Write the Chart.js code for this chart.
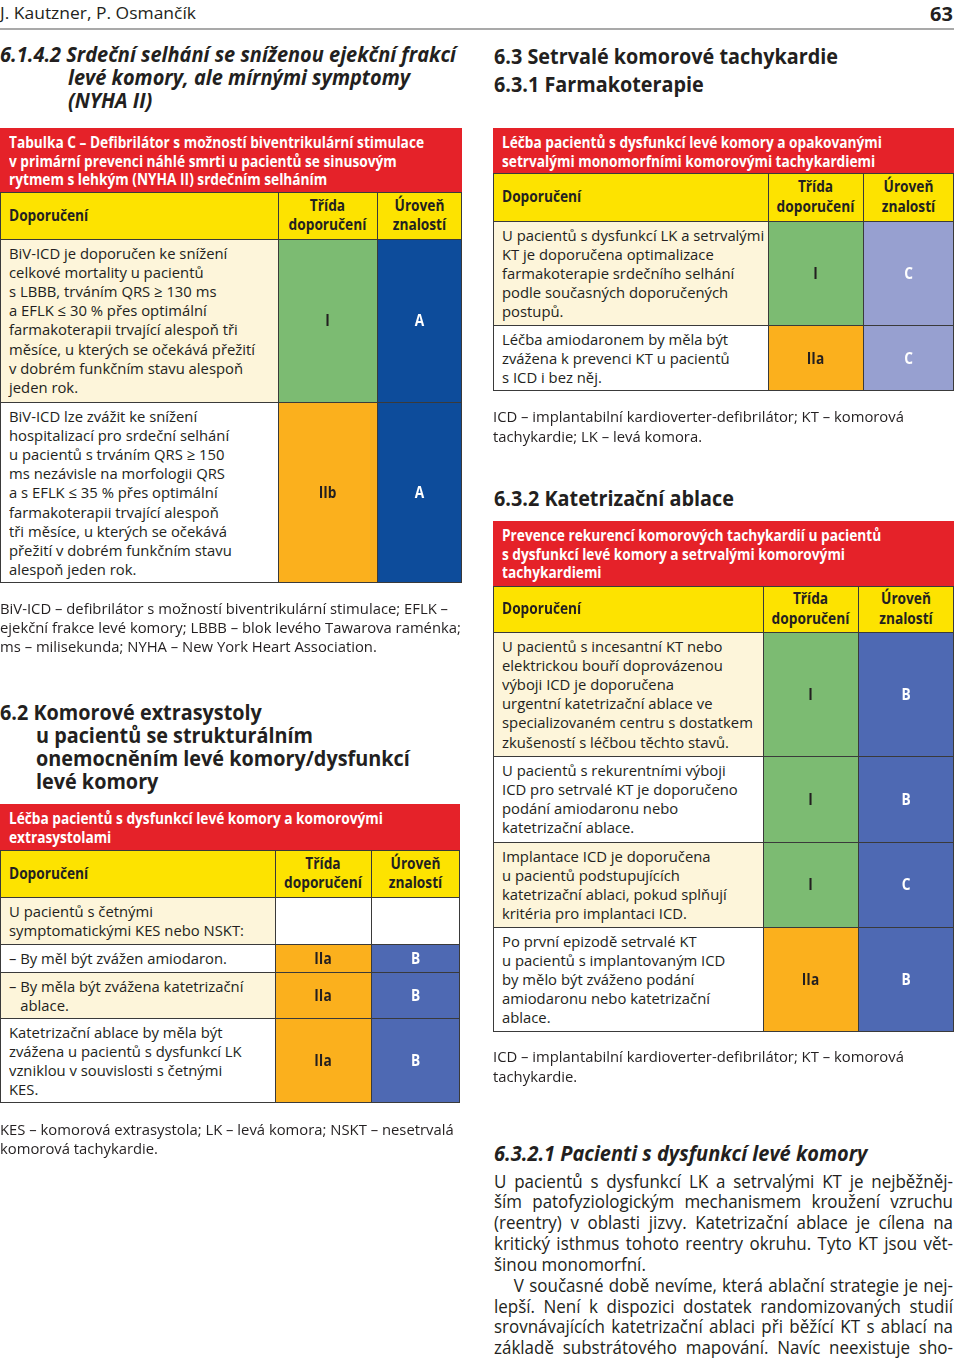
<!DOCTYPE html>
<html lang="cs">
<head>
<meta charset="utf-8">
<title>Komorové arytmie – tabulky doporučení</title>
<script src="https://cdn.jsdelivr.net/npm/chart.js@4.4.0/dist/chart.umd.min.js"></script>
<style>
html,body{margin:0;padding:0;background:#fff;}
body{width:960px;height:1365px;position:relative;overflow:hidden;color:#231f20;}
#page{position:absolute;left:0;top:0;width:960px;height:1365px;}
canvas{display:block;}
</style>
</head>
<body>
<div id="page"></div>
<script>
// ===================== DATA =====================
const runningHead = 'J. Kautzner, P. Osmančík';
const pageNumber = '63';

const headLeft1 = ['6.1.4.2 Srdeční selhání se sníženou ejekční frakcí', 'levé komory, ale mírnými symptomy', '(NYHA II)'];
const headLeft2 = ['6.2 Komorové extrasystoly', 'u pacientů se strukturálním', 'onemocněním levé komory/dysfunkcí', 'levé komory'];
const headRight1 = ['6.3 Setrvalé komorové tachykardie', '6.3.1 Farmakoterapie'];
const headRight3 = ['6.3.2 Katetrizační ablace'];
const headRight4 = ['6.3.2.1 Pacienti s dysfunkcí levé komory'];

const colHeadRec = ['Doporučení'];
const colHeadClass = ['Třída', 'doporučení'];
const colHeadLevel = ['Úroveň', 'znalostí'];

// Table C (left, top)
const t1Title = ['Tabulka C – Defibrilátor s možností biventrikulární stimulace', 'v primární prevenci náhlé smrti u pacientů se sinusovým', 'rytmem s lehkým (NYHA II) srdečním selháním'];
const t1Rows = [
  ['BiV-ICD je doporučen ke snížení', 'celkové mortality u pacientů', 's LBBB, trváním QRS ≥ 130 ms', 'a EFLK ≤ 30 % přes optimální', 'farmakoterapii trvající alespoň tři', 'měsíce, u kterých se očekává přežití', 'v dobrém funkčním stavu alespoň', 'jeden rok.'],
  ['BiV-ICD lze zvážit ke snížení', 'hospitalizací pro srdeční selhání', 'u pacientů s trváním QRS ≥ 150', 'ms nezávisle na morfologii QRS', 'a s EFLK ≤ 35 % přes optimální', 'farmakoterapii trvající alespoň', 'tři měsíce, u kterých se očekává', 'přežití v dobrém funkčním stavu', 'alespoň jeden rok.']
];
const t1Class = ['I', 'IIb'];
const t1Level = ['A', 'A'];
const t1Note = ['BiV-ICD – defibrilátor s možností biventrikulární stimulace; EFLK –', 'ejekční frakce levé komory; LBBB – blok levého Tawarova raménka;', 'ms – milisekunda; NYHA – New York Heart Association.'];

// Table (left, bottom)
const t2Title = ['Léčba pacientů s dysfunkcí levé komory a komorovými', 'extrasystolami'];
const t2Rows = [
  ['U pacientů s četnými', 'symptomatickými KES nebo NSKT:'],
  ['– By měl být zvážen amiodaron.'],
  ['– By měla být zvážena katetrizační', 'ablace.'],
  ['Katetrizační ablace by měla být', 'zvážena u pacientů s dysfunkcí LK', 'vzniklou v souvislosti s četnými', 'KES.']
];
const t2Class = ['', 'IIa', 'IIa', 'IIa'];
const t2Level = ['', 'B', 'B', 'B'];
const t2Note = ['KES – komorová extrasystola; LK – levá komora; NSKT – nesetrvalá', 'komorová tachykardie.'];

// Table (right, top)
const t3Title = ['Léčba pacientů s dysfunkcí levé komory a opakovanými', 'setrvalými monomorfními komorovými tachykardiemi'];
const t3Rows = [
  ['U pacientů s dysfunkcí LK a setrvalými', 'KT je doporučena optimalizace', 'farmakoterapie srdečního selhání', 'podle současných doporučených', 'postupů.'],
  ['Léčba amiodaronem by měla být', 'zvážena k prevenci KT u pacientů', 's ICD i bez něj.']
];
const t3Class = ['I', 'IIa'];
const t3Level = ['C', 'C'];
const t3Note = ['ICD – implantabilní kardioverter-defibrilátor; KT – komorová', 'tachykardie; LK – levá komora.'];

// Table (right, bottom)
const t4Title = ['Prevence rekurencí komorových tachykardií u pacientů', 's dysfunkcí levé komory a setrvalými komorovými', 'tachykardiemi'];
const t4Rows = [
  ['U pacientů s incesantní KT nebo', 'elektrickou bouří doprovázenou', 'výboji ICD je doporučena', 'urgentní katetrizační ablace ve', 'specializovaném centru s dostatkem', 'zkušeností s léčbou těchto stavů.'],
  ['U pacientů s rekurentními výboji', 'ICD pro setrvalé KT je doporučeno', 'podání amiodaronu nebo', 'katetrizační ablace.'],
  ['Implantace ICD je doporučena', 'u pacientů podstupujících', 'katetrizační ablaci, pokud splňují', 'kritéria pro implantaci ICD.'],
  ['Po první epizodě setrvalé KT', 'u pacientů s implantovaným ICD', 'by mělo být zváženo podání', 'amiodaronu nebo katetrizační', 'ablace.']
];
const t4Class = ['I', 'I', 'I', 'IIa'];
const t4Level = ['B', 'B', 'C', 'B'];
const t4Note = ['ICD – implantabilní kardioverter-defibrilátor; KT – komorová', 'tachykardie.'];

const paraLines = [
  'U pacientů s dysfunkcí LK a setrvalými KT je nejběžněj-',
  'ším patofyziologickým mechanismem kroužení vzruchu',
  '(reentry) v oblasti jizvy. Katetrizační ablace je cílena na',
  'kritický isthmus tohoto reentry okruhu. Tyto KT jsou vět-',
  'šinou monomorfní.',
  'V současné době nevíme, která ablační strategie je nej-',
  'lepší. Není k dispozici dostatek randomizovaných studií',
  'srovnávajících katetrizační ablaci při běžící KT s ablací na',
  'základě substrátového mapování. Navíc neexistuje sho-'
];
const paraEnds = [4];     // paragraph-final line (not justified)
const paraIndents = [5];  // paragraph-first line (indented)

// ===================== STYLE / LAYOUT =====================
const FAMILY = "'Open Sans', 'Noto Sans', 'DejaVu Sans', sans-serif";
const INK = '#231f20';
const RED = '#e52229';
const YELLOW = '#fde300';
const LIGHT = '#fdf5da';
const LINE = '#3a3a3a';
const CLASS_FILL = { 'I': '#7cbb72', 'IIa': '#fbb01d', 'IIb': '#fbb01d', '': '#ffffff' };

const layouts = {
  t1: { x: 0,   top: 128, w: 462, titleH: 64, headH: 47, c1: 278, c2: 377, rows: [163, 181], levelFill: { 'A': '#0d4c9b' } },
  t2: { x: 0,   top: 804, w: 460, titleH: 46, headH: 47, c1: 275, c2: 371, rows: [47, 28, 46, 85], levelFill: { 'B': '#4e69b3', '': '#ffffff' } },
  t3: { x: 493, top: 128, w: 461, titleH: 45, headH: 48, c1: 275, c2: 370, rows: [104, 66], levelFill: { 'C': '#97a0d0' } },
  t4: { x: 493, top: 521, w: 461, titleH: 65, headH: 46, c1: 270, c2: 365, rows: [124, 86, 85, 105], levelFill: { 'B': '#4e69b3', 'C': '#4e69b3' } }
};

// ===================== FONT CALIBRATION =====================
const mctx = document.createElement('canvas').getContext('2d');
function rawW(font, s) { mctx.font = font; return mctx.measureText(s).width; }
function mk(weight, style, size, refStr, target) {
  const font = `${style} ${weight} ${size}px ${FAMILY}`;
  const k = Math.min(1.05, target / rawW(font, refStr));
  return { font, k, size, weight, style };
}
function textW(st, s) { return rawW(st.font, s) * st.k; }
const ST = {
  body:   mk(400, 'normal', 15.2, 'BiV-ICD – defibrilátor s možností biventrikulární stimulace; EFLK –', 448),
  bold:   mk(700, 'normal', 16, 'Tabulka C – Defibrilátor s možností biventrikulární stimulace', 415),
  head:   mk(700, 'normal', 21, '6.3 Setrvalé komorové tachykardie', 344),
  headIt: mk(700, 'italic', 21, '6.1.4.2 Srdeční selhání se sníženou ejekční frakcí', 456),
  para:   mk(400, 'normal', 17.5, 'šinou monomorfní.', 152),
  run:    mk(400, 'normal', 17, 'J. Kautzner, P. Osmančík', 196),
  num:    mk(700, 'normal', 19, '63', 23)
};

// ===================== HELPERS =====================
const page = document.getElementById('page');
function box(css) {
  const e = document.createElement('div');
  e.style.position = 'absolute';
  Object.assign(e.style, css);
  page.appendChild(e);
  return e;
}
// one text element per block of lines; yc = centre of the first line
function block(arr, x, yc, lh, st, opt) {
  opt = opt || {};
  const css = {
    font: st.font,
    left: x + 'px', top: (yc - lh / 2 - 1) + 'px', lineHeight: lh + 'px',
    whiteSpace: 'pre', color: opt.color || INK,
    transform: `scaleX(${st.k})`, transformOrigin: 'left top'
  };
  if (opt.width) css.width = (opt.width / st.k) + 'px';
  if (opt.align) css.textAlign = opt.align;
  if (opt.hang) {
    css.paddingLeft = (opt.hang / st.k) + 'px';
    css.textIndent = (-opt.hang / st.k) + 'px';
  }
  const e = box(css);
  e.textContent = arr.join('\n');
  return e;
}
function hline(x, y, w) { box({ left: x + 'px', top: y + 'px', width: w + 'px', height: '1px', background: LINE }); }
function vline(x, y, h) { box({ left: x + 'px', top: y + 'px', width: '1px', height: h + 'px', background: LINE }); }

const cellLabels = (color) => ({
  id: 'cellLabels',
  afterDatasetsDraw(chart) {
    const c = chart.ctx;
    chart.data.datasets.forEach((ds, i) => {
      const bar = chart.getDatasetMeta(i).data[0];
      const p = bar.getCenterPoint();
      c.save();
      c.font = ST.bold.font;
      c.fillStyle = color;
      c.textAlign = 'center';
      c.textBaseline = 'middle';
      c.translate(p.x, p.y + 1);
      c.scale(ST.bold.k, 1);
      c.fillText(ds.label, 0, 0);
      c.restore();
    });
  }
});

function cellChart(x, y, w, h, labels, fills, textColor, rowH) {
  const cv = document.createElement('canvas');
  cv.width = w; cv.height = h;
  Object.assign(cv.style, { position: 'absolute', left: x + 'px', top: y + 'px', width: w + 'px', height: h + 'px' });
  page.appendChild(cv);
  const total = rowH.reduce((a, b) => a + b, 0);
  return new Chart(cv, {
    type: 'bar',
    data: {
      labels: ['cell'],
      datasets: labels.map((lab, i) => ({
        label: lab, data: [rowH[i]], backgroundColor: fills[i],
        borderWidth: 0, barPercentage: 1, categoryPercentage: 1, stack: 'col'
      }))
    },
    options: {
      responsive: false, maintainAspectRatio: false, animation: false, events: [],
      layout: { padding: 0 },
      plugins: { legend: { display: false }, tooltip: { enabled: false } },
      scales: {
        x: { display: false, stacked: true, offset: true },
        y: { display: false, stacked: true, reverse: true, min: 0, max: total }
      }
    },
    plugins: [cellLabels(textColor)]
  });
}

function buildTable(L, title, rows, classes, levels) {
  const x = L.x;
  // red title
  box({ left: x + 'px', top: L.top + 'px', width: L.w + 'px', height: L.titleH + 'px', background: RED });
  block(title, x + 9, L.top + 15.3, 18.5, ST.bold, { color: '#ffffff' });
  // header row
  const hy = L.top + L.titleH;
  box({ left: x + 'px', top: hy + 'px', width: L.w + 'px', height: L.headH + 'px', background: YELLOW });
  block(colHeadRec, x + 9, hy + L.headH / 2 + 1, 19.4, ST.bold);
  const hc = hy + L.headH / 2 - 9.7 + 0.5;
  const cw = L.c2 - L.c1, lw = L.w - L.c2;
  block(colHeadClass, x + L.c1, hc, 19.4, ST.bold, { width: cw, align: 'center' });
  block(colHeadLevel, x + L.c2, hc, 19.4, ST.bold, { width: lw, align: 'center' });
  // body rows (text column)
  const bodyTop = hy + L.headH;
  let y = bodyTop;
  rows.forEach((r, i) => {
    const h = L.rows[i];
    box({ left: x + 'px', top: y + 'px', width: L.c1 + 'px', height: h + 'px', background: i % 2 === 0 ? LIGHT : '#ffffff' });
    const hang = r.length > 1 && r[0].startsWith('– ') ? textW(ST.body, '– ') : 0;
    block(r, x + 9, y + 15.2, 19.2, ST.body, hang ? { hang } : {});
    y += h;
  });
  const bodyH = y - bodyTop;
  // class + level columns drawn by Chart.js (stacked bars, one per row)
  cellChart(x + L.c1, bodyTop, cw, bodyH, classes, classes.map(c => CLASS_FILL[c]), INK, L.rows);
  cellChart(x + L.c2, bodyTop, lw, bodyH, levels, levels.map(c => L.levelFill[c]), '#ffffff', L.rows);
  // grid
  hline(x, hy, L.w);
  hline(x, bodyTop, L.w);
  let yy = bodyTop;
  L.rows.forEach((h, i) => { yy += h; hline(x, i === L.rows.length - 1 ? yy - 1 : yy, L.w); });
  const gh = yy - hy;
  vline(x, hy, gh);
  vline(x + L.c1, hy, gh);
  vline(x + L.c2, hy, gh);
  vline(x + L.w - 1, hy, gh);
}

// ===================== PAGE =====================
// running head
block([runningHead], 0, 13.5, 22, ST.run);
block([pageNumber], 953 - textW(ST.num, pageNumber), 15, 22, ST.num);
box({ left: '0px', top: '28px', width: '954px', height: '2px', background: '#a9a9a9' });

// left column
block(headLeft1, 0, 55.5, 23, ST.headIt, { hang: 68 });
buildTable(layouts.t1, t1Title, t1Rows, t1Class, t1Level);
block(t1Note, 0, 609.5, 19.2, ST.body);
block(headLeft2, 0, 713.5, 23, ST.head, { hang: 36 });
buildTable(layouts.t2, t2Title, t2Rows, t2Class, t2Level);
block(t2Note, 0, 1130.5, 19, ST.body);

// right column
block(headRight1, 494, 57, 28, ST.head);
buildTable(layouts.t3, t3Title, t3Rows, t3Class, t3Level);
block(t3Note, 493, 418, 19.2, ST.body);
block(headRight3, 494, 498.5, 26, ST.head);
buildTable(layouts.t4, t4Title, t4Rows, t4Class, t4Level);
block(t4Note, 493, 1058, 19.2, ST.body);
block(headRight4, 494, 1154, 26, ST.headIt);

// justified paragraph: a single text element, forced line breaks, every line justified
(function () {
  const lh = 20.83, W = 459;
  const texts = paraLines.map((t, i) => {
    let s = t;
    if (paraEnds.includes(i)) s = s.replace(/ /g, '\u2005');        // no justification on paragraph end
    if (paraIndents.includes(i)) s = '\u2003\u2009' + s;            // first-line indent
    return s;
  });
  const widest = Math.max(...texts.map(s => rawW(ST.para.font, s)));
  const k = Math.min(ST.para.k, (W - 1) / widest);
  const e = box({
    font: ST.para.font,
    left: '494px', top: (1182 - lh / 2 - 1) + 'px',
    width: (W / k) + 'px', lineHeight: lh + 'px', color: INK,
    whiteSpace: 'pre-line', textAlign: 'justify', textAlignLast: 'justify',
    transform: `scaleX(${k})`, transformOrigin: 'left top'
  });
  e.textContent = texts.join('\n');
})();
</script>
</body>
</html>
